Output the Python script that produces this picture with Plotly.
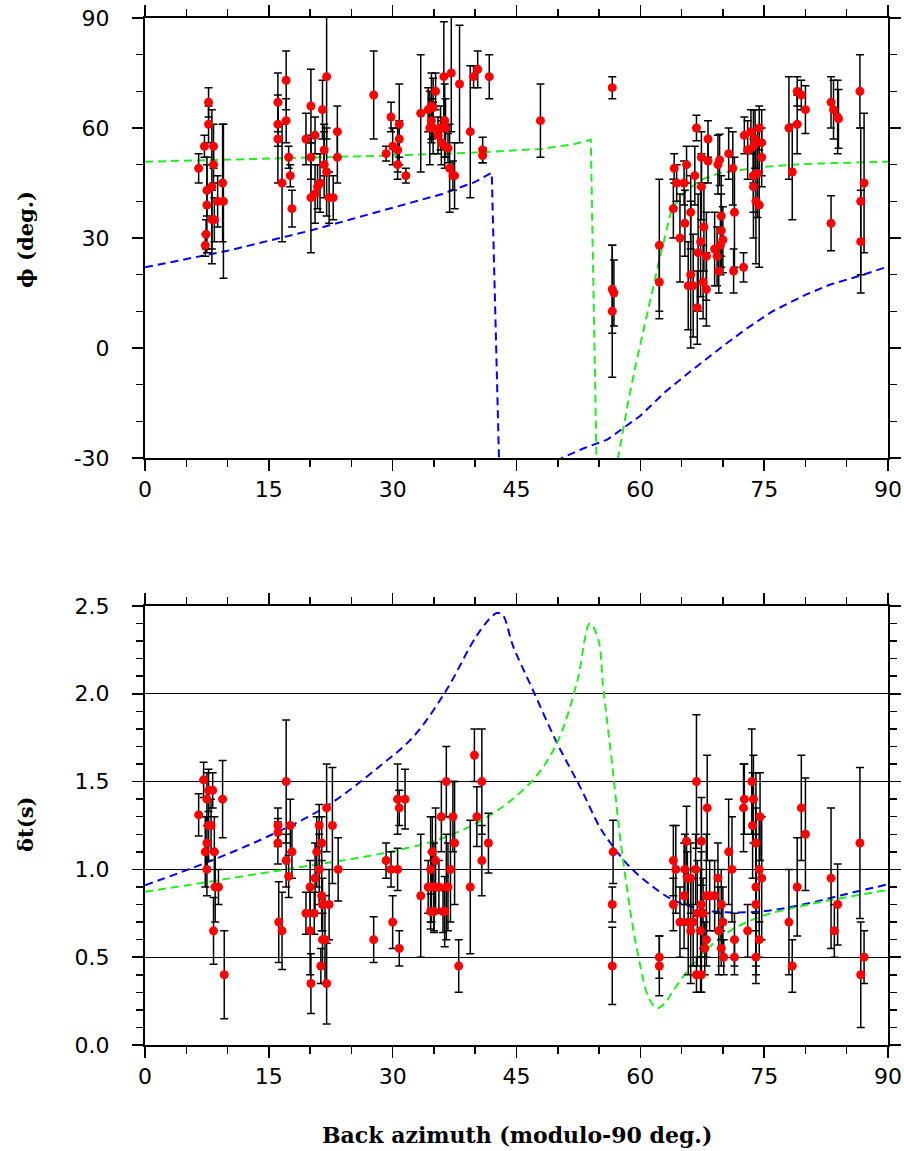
import plotly.graph_objects as go

# ---------------- data: fast-axis direction (top panel) ----------------
phi_baz = [6.5, 7.7, 7.7, 7.2, 8.3, 8.3, 8.1, 7.5, 7.5, 8.1, 8.4, 7.4, 7.3, 9.4, 8.8, 9.5,
           16.1, 16.1, 16.1, 17.1, 17.1, 16.6, 17.4, 17.6, 17.8,
           19.5, 20.1, 20.1, 20.6, 20.1, 20.9, 21.2, 21.5, 21.7, 21.7, 22.0, 22.0, 20.6, 22.3, 22.8, 23.3, 23.3,
           27.7, 29.2, 29.8, 30.0, 30.8, 30.8, 30.6, 30.6, 31.6,
           33.4, 34.3, 34.7, 34.9, 35.2, 34.5, 34.9, 34.7, 35.5, 35.8, 36.3, 36.4, 35.9, 36.3, 36.7,
           36.2, 37.1, 38.1, 36.9, 37.3, 37.5, 39.4, 39.8, 40.3, 41.7, 40.9, 40.9,
           47.9, 56.6, 56.6, 56.8, 56.6,
           62.3, 62.3, 64.1, 64.4, 64.0, 64.8, 65.3, 65.6, 65.4, 66.1, 66.1, 65.8, 66.4, 66.8, 66.6,
           67.4, 67.4, 67.7, 67.3, 67.0, 68.0, 67.6, 68.0, 66.9, 68.2, 68.2, 69.4, 69.6, 69.0, 69.3,
           69.5, 69.8, 69.8, 70.0, 69.7, 70.7, 71.2, 71.4, 71.3, 72.5, 72.6, 73.0, 73.4, 73.7, 73.9,
           74.4, 74.7, 74.7, 73.7, 74.2, 73.7, 74.0, 74.4,
           78.0, 78.4, 79.0, 79.5, 79.0, 80.0, 83.1, 83.4, 83.9, 84.0, 83.1, 86.6, 87.1, 86.7, 86.7]
phi_val = [49, 67, 61, 55, 55, 50, 44, 43, 39, 35, 35, 31, 28, 45, 40, 40,
           67, 61, 57, 73, 62, 45, 52, 47, 38,
           57, 66, 52, 58, 41, 44, 45, 65, 54, 50, 48, 74, 42, 41, 41, 59, 52,
           69, 53, 63, 55, 61, 57, 54, 50, 47,
           64, 65, 66, 65.6, 70, 60, 60, 62, 58, 60, 62, 60, 56, 55, 54.5,
           74, 75, 72, 49, 47, 47, 59, 74, 76, 74, 54, 52.5,
           62, 71, 16, 15, 10,
           28, 18, 49, 45, 38, 30, 45, 50, 34, 37, 20, 17, 17, 60, 47,
           52, 44, 33, 29, 26, 25, 18, 16, 11, 57, 51, 50, 51.3, 27, 25,
           21, 36, 32, 29.5, 28, 53, 49, 37, 21, 22, 58, 54, 59, 55, 57,
           60, 56, 52, 47, 47.6, 44, 40, 39,
           60, 48, 70, 69, 61, 65, 67, 65, 63, 62.5, 34, 70, 45, 40, 29]
phi_err = [4, 4, 5, 3, 6, 5, 21, 7, 13, 8, 6, 4, 3, 16, 7, 21,
           8, 6, 12, 8, 6, 16, 3, 3, 5,
           7, 10, 6, 5, 15, 6, 8, 8, 7, 9, 12, 17, 8, 7, 6, 7, 7,
           12, 2, 4, 5, 11, 5, 6, 4, 2,
           16, 6, 9, 8, 5, 10, 7, 6, 5, 6, 10, 8, 6, 6, 4,
           15, 16, 16, 12, 4, 9, 18, 3, 5, 6, 3.5, 2,
           10, 3, 12, 9, 18,
           18, 10, 4, 5, 8, 12, 6, 5, 9, 10, 20, 12, 14, 3.5, 8,
           7, 9, 12, 15, 16, 12, 10, 10, 10, 5, 6, 8, 7, 10, 8,
           6, 11, 10, 9, 8, 7, 10, 15, 6, 4, 5, 8, 6, 10, 8,
           6, 9, 8, 10, 12, 14, 17, 17,
           14, 13, 4, 4, 8, 6.5, 7, 8, 10, 8, 7.5, 10, 19, 20, 14]

# ---------------- data: delay time (bottom panel) ----------------
dt_baz = [6.5, 7.1, 7.5, 7.7, 8.2, 7.7, 8.0, 7.5, 7.3, 8.4, 7.5, 8.5, 8.9, 8.3, 9.4, 9.6,
          16.1, 16.1, 16.1, 16.2, 16.6, 17.1, 17.1, 17.4, 17.6, 17.8,
          19.5, 20.0, 20.0, 20.1, 20.5, 20.6, 20.8, 21.1, 21.4, 21.1, 21.4, 21.5, 21.3, 21.5, 21.8,
          22.0, 22.0, 22.3, 22.7, 23.4,
          27.7, 29.2, 29.8, 30.0, 30.6, 30.8, 30.6, 30.8, 31.5,
          33.4, 34.3, 34.6, 34.7, 35.0, 34.8, 34.6, 35.0, 35.2, 35.6, 35.9, 36.1, 36.3, 36.5, 36.5,
          36.7, 37.0, 37.3, 37.5, 38.0, 39.4, 39.9, 40.2, 40.8, 40.8, 41.6,
          56.7, 56.6, 56.6,
          62.3, 62.3, 64.0, 64.3, 64.0, 64.8, 65.3, 65.4, 65.6, 65.7, 65.8, 66.1, 66.1, 66.4, 66.7,
          66.8, 66.9, 66.8, 67.4, 67.4, 67.3, 67.6, 67.8, 67.4, 68.1, 68.0, 68.0, 68.4, 69.0, 69.4,
          69.5, 69.8, 69.8, 70.0, 70.1, 70.7, 71.1, 71.4, 71.4, 72.5, 72.6, 73.0, 73.5, 73.7, 73.6,
          74.0, 74.0, 74.0, 74.0, 74.4, 74.7, 74.5, 74.4,
          78.0, 78.4, 79.0, 79.5, 80.0, 83.1, 83.5, 83.9, 86.6, 86.7, 87.1]
dt_val = [1.31, 1.51, 1.40, 1.45, 1.45, 1.25, 1.25, 1.15, 1.10, 1.10, 1.00, 0.90, 0.90, 0.65, 1.40, 0.40,
          1.25, 1.21, 1.15, 0.70, 0.65, 1.50, 1.05, 0.96, 1.25, 1.10,
          0.75, 0.90, 0.65, 0.35, 0.75, 0.95, 1.10, 1.25, 1.15, 1.00, 0.85, 0.80, 0.45, 0.60, 0.60,
          0.35, 1.35, 0.80, 1.25, 1.00,
          0.60, 1.05, 1.00, 0.70, 1.40, 1.35, 1.00, 0.55, 1.40,
          0.85, 0.90, 1.00, 0.90, 0.90, 1.10, 0.76, 0.76, 1.05, 0.90, 1.30, 0.76, 0.76, 1.50, 0.90,
          0.90, 1.00, 1.30, 1.15, 0.45, 0.90, 1.65, 1.30, 1.50, 1.05, 1.15,
          1.10, 0.80, 0.45,
          0.50, 0.45, 1.05, 1.00, 0.80, 0.70, 0.85, 1.00, 1.16, 0.95, 0.70, 0.95, 0.65, 0.70, 1.00,
          1.50, 0.75, 0.40, 1.16, 0.80, 0.65, 0.75, 0.55, 0.40, 1.35, 0.85, 0.60, 0.85, 0.85, 0.95,
          0.65, 0.80, 0.55, 0.70, 0.50, 1.10, 1.00, 0.60, 0.50, 1.35, 1.40, 0.65, 1.50, 1.40, 1.25,
          1.15, 0.90, 0.80, 0.50, 1.00, 0.95, 1.30, 0.60,
          0.70, 0.45, 0.90, 1.35, 1.20, 0.95, 0.65, 0.80, 1.15, 0.40, 0.50]
dt_err = [0.12, 0.10, 0.15, 0.12, 0.10, 0.20, 0.15, 0.15, 0.20, 0.20, 0.15, 0.20, 0.10, 0.19, 0.22, 0.25,
          0.10, 0.08, 0.12, 0.23, 0.22, 0.35, 0.15, 0.12, 0.15, 0.15,
          0.12, 0.15, 0.25, 0.17, 0.12, 0.20, 0.20, 0.12, 0.15, 0.20, 0.20, 0.15, 0.10, 0.15, 0.25,
          0.23, 0.25, 0.20, 0.33, 0.18,
          0.13, 0.10, 0.10, 0.15, 0.20, 0.10, 0.12, 0.10, 0.17,
          0.35, 0.15, 0.30, 0.20, 0.25, 0.20, 0.10, 0.12, 0.30, 0.15, 0.20, 0.12, 0.20, 0.20, 0.30,
          0.25, 0.30, 0.20, 0.35, 0.15, 0.38, 0.15, 0.17, 0.30, 0.20, 0.17,
          0.18, 0.10, 0.22,
          0.12, 0.17, 0.20, 0.25, 0.15, 0.20, 0.30, 0.20, 0.20, 0.15, 0.30, 0.20, 0.30, 0.25, 0.20,
          0.38, 0.30, 0.10, 0.25, 0.30, 0.35, 0.20, 0.15, 0.10, 0.30, 0.35, 0.15, 0.20, 0.20, 0.20,
          0.25, 0.20, 0.10, 0.20, 0.10, 0.30, 0.30, 0.15, 0.10, 0.25, 0.20, 0.15, 0.30, 0.25, 0.30,
          0.40, 0.45, 0.40, 0.15, 0.30, 0.35, 0.25, 0.10,
          0.30, 0.15, 0.28, 0.30, 0.32, 0.40, 0.15, 0.23, 0.43, 0.30, 0.15]

# ---------------- model curves ----------------
blue_phi_x = [0, 10, 20, 30, 36, 40, 42.0, 42.9, 46.5, 50.5, 53, 56, 60, 63, 66, 70, 73, 76, 80, 83, 86.6, 90]
blue_phi_y = [22, 26.5, 32, 38.3, 42, 45.3, 47.8, -32, -75, -30, -27.5, -25, -18.5, -12, -6.5, 0.5, 5.5, 10, 14.5, 17.3, 19.7, 22.2]
green_phi_x = [0, 15, 30, 40, 48, 52, 54.0, 54.7, 56, 57.3, 58.5, 59.5, 60.5, 61.5, 62.4, 63.8, 65.6, 67.5, 69.6, 74.9, 80, 90]
green_phi_y = [50.8, 51.6, 52.5, 53.3, 54.3, 55.6, 56.8, -32, -80, -30, -15, -4, 6, 16, 25, 38, 43, 46, 47.7, 49.4, 50.2, 50.8]
blue_dt_x = [0, 7.5, 15, 22, 28.5, 32.5, 36.5, 39.4, 40.6, 42.0, 42.6, 43.3, 44.6, 47, 49.9, 52.7, 55.1, 56.7,
             58.7, 61, 63.6, 66, 68.8, 74.5, 79.7, 85, 90]
blue_dt_y = [0.91, 1.04, 1.19, 1.36, 1.59, 1.755, 2.02, 2.27, 2.36, 2.44, 2.46, 2.45, 2.27, 2.02, 1.72, 1.47, 1.24, 1.13,
             1.015, 0.92, 0.835, 0.79, 0.76, 0.76, 0.80, 0.86, 0.915]
green_dt_x = [0, 17.1, 29.7, 36.5, 42.2, 47, 49.9, 52.3, 53.9, 54.9, 55.5, 56.7, 57.5, 58.3, 59, 60, 61, 62, 63, 64,
              66.8, 70.4, 74.5, 80.1, 90]
green_dt_y = [0.873, 1.0, 1.10, 1.186, 1.32, 1.51, 1.72, 2.06, 2.40, 2.31, 2.04, 1.55, 1.2, 0.92, 0.70, 0.45, 0.27, 0.21,
              0.24, 0.31, 0.484, 0.636, 0.73, 0.797, 0.883]

x_ticks = [0, 15, 30, 45, 60, 75, 90]
x_ticktext = ["0", "15", "30", "45", "60", "75", "90"]
phi_ticks = [-30, 0, 30, 60, 90]
phi_ticktext = ["-30", "0", "30", "60", "90"]
dt_ticks = [0, 0.5, 1.0, 1.5, 2.0, 2.5]
dt_ticktext = ["0.0", "0.5", "1.0", "1.5", "2.0", "2.5"]

BLUE = "#0000ff"
GREEN = "#22ee22"
DASH = "8px,5px"

fig = go.Figure()

# curves
fig.add_trace(go.Scatter(x=blue_phi_x, y=blue_phi_y, mode="lines",
                         line=dict(color=BLUE, width=2, dash=DASH), xaxis="x", yaxis="y"))
fig.add_trace(go.Scatter(x=green_phi_x, y=green_phi_y, mode="lines",
                         line=dict(color=GREEN, width=2, dash=DASH), xaxis="x", yaxis="y"))
fig.add_trace(go.Scatter(x=blue_dt_x, y=blue_dt_y, mode="lines", line_shape="spline",
                         line=dict(color=BLUE, width=2, dash=DASH), xaxis="x2", yaxis="y2"))
fig.add_trace(go.Scatter(x=green_dt_x, y=green_dt_y, mode="lines", line_shape="spline",
                         line=dict(color=GREEN, width=2, dash=DASH), xaxis="x2", yaxis="y2"))

# data with error bars
fig.add_trace(go.Scatter(x=phi_baz, y=phi_val, mode="markers",
                         marker=dict(color="#ff0000", size=9),
                         error_y=dict(type="data", array=phi_err, visible=True,
                                      color="black", thickness=1.5, width=4),
                         xaxis="x", yaxis="y"))
fig.add_trace(go.Scatter(x=dt_baz, y=dt_val, mode="markers",
                         marker=dict(color="#ff0000", size=9),
                         error_y=dict(type="data", array=dt_err, visible=True,
                                      color="black", thickness=1.5, width=4),
                         xaxis="x2", yaxis="y2"))

tickfont = dict(family="DejaVu Sans", size=22, color="black")
common_axis = dict(showline=True, linecolor="black", linewidth=2, mirror="ticks",
                   ticks="outside", ticklen=11, tickwidth=1.5, tickcolor="black",
                   tickfont=tickfont, zeroline=False, automargin=False,
                   ticklabeloverflow="allow")
minor_x = dict(dtick=5, tick0=0, ticks="outside", ticklen=7, tickcolor="black", tickwidth=1.5, showgrid=False)

fig.update_layout(
    width=904, height=1151,
    margin=dict(l=145, r=16, t=18, b=106, autoexpand=False),
    plot_bgcolor="white", paper_bgcolor="white",
    showlegend=False,
    xaxis=dict(domain=[0, 1], anchor="y", range=[0, 90], tickmode="array",
               tickvals=x_ticks, ticktext=x_ticktext, showgrid=False,
               ticklabelstandoff=0, minor=minor_x, **common_axis),
    yaxis=dict(domain=[0.5716, 1], anchor="x", range=[-30, 90], tickmode="array",
               tickvals=phi_ticks, ticktext=phi_ticktext, showgrid=False, ticklabelstandoff=18,
               minor=dict(dtick=10, tick0=0, ticks="outside", ticklen=7, tickcolor="black",
                          tickwidth=1.5, showgrid=False),
               **common_axis),
    xaxis2=dict(domain=[0, 1], anchor="y2", range=[0, 90], tickmode="array",
                tickvals=x_ticks, ticktext=x_ticktext, showgrid=False,
                ticklabelstandoff=0, minor=minor_x, **common_axis),
    yaxis2=dict(domain=[0, 0.4275], anchor="x2", range=[0, 2.5], tickmode="array",
                tickvals=dt_ticks, ticktext=dt_ticktext, ticklabelstandoff=18,
                showgrid=True, gridcolor="black", gridwidth=1,
                minor=dict(dtick=0.1, tick0=0, ticks="outside", ticklen=7, tickcolor="black",
                           tickwidth=1.5, showgrid=False),
                **common_axis),
)

titlefont = dict(family="DejaVu Serif", size=21, color="black", weight="bold")
fig.add_annotation(text="ϕ (deg.)", xref="paper", yref="paper", x=-0.1615, y=(1045 - 240) / 1027,
                   textangle=-90, showarrow=False, font=titlefont, xanchor="center", yanchor="middle")
fig.add_annotation(text="δt(s)", xref="paper", yref="paper", x=-0.1615, y=(1045 - 825) / 1027,
                   textangle=-90, showarrow=False, font=titlefont, xanchor="center", yanchor="middle")
fig.add_annotation(text="Back azimuth (modulo-90 deg.)", xref="paper", yref="paper",
                   x=(517 - 145) / 743, y=(1045 - 1135) / 1027, showarrow=False,
                   font=dict(family="DejaVu Serif", size=22, color="black", weight="bold"),
                   xanchor="center", yanchor="middle")

# remove the default 8px page margin so the figure fills the window exactly
fig.write_html("out.html",
               config={"displayModeBar": False, "staticPlot": True},
               post_script="document.body.style.margin='0';document.body.style.overflow='hidden';")
